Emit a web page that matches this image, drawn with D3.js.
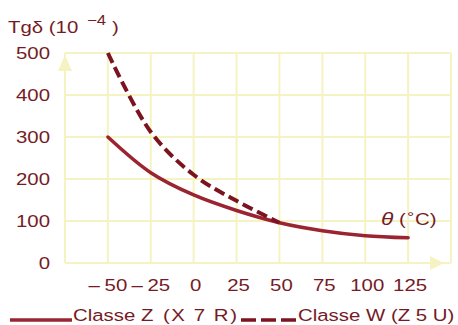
<!DOCTYPE html>
<html>
<head>
<meta charset="utf-8">
<script src="https://cdn.jsdelivr.net/npm/d3@7"></script>
<style>
  body { margin: 0; background: #fff; }
  text { font-family: "Liberation Sans", Arial, sans-serif; fill: #751b25; }
</style>
</head>
<body>
<div id="chart"></div>
<script>
(function () {

	// data
	var temps = [-50, -25, 0, 25, 50, 75, 100, 125];
	var classeZ = [300, 215, 162, 125, 96, 77, 65, 60];
	var tempsW = [-50, -25, 0, 25, 50];
	var classeW = [500, 312, 210, 148, 96];
	var xTicks = [-50, -25, 0, 25, 50, 75, 100, 125];
	var yTicks = [0, 100, 200, 300, 400, 500];

	var width = 458, height = 325;
	var gridColor = "#f6f3c2";
	var red = "#9a2430", darkRed = "#7c1420";
	var stretch = 1.2;

	var svg = d3.select("#chart")
		.append("svg")
		.attr("width", width)
		.attr("height", height);

	var x = d3.scaleLinear().domain([-75, 150]).range([65, 451]);
	var y = d3.scaleLinear().domain([0, 500]).range([263, 53]);

	// text is a bit wide in the original, so stretch it horizontally
	function label(px, py, txt, anchor, size) {
		return svg.append("text")
			.attr("transform", "translate(" + px + "," + py + ") scale(" + stretch + ",1)")
			.attr("text-anchor", anchor || "start")
			.attr("font-size", size || 17)
			.text(txt);
	}

	// grid
	var grid = svg.append("g");
	grid.selectAll(".vline")
		.data(d3.range(-75, 151, 25))
		.enter().append("line")
		.attr("x1", function(d){ return x(d) })
		.attr("x2", function(d){ return x(d) })
		.attr("y1", y(0))
		.attr("y2", y(500))
		.attr("stroke", gridColor)
		.attr("stroke-width", 2);

	grid.selectAll(".hline")
		.data(yTicks)
		.enter().append("line")
		.attr("x1", x(-75))
		.attr("x2", x(150))
		.attr("y1", function(d){ return y(d) })
		.attr("y2", function(d){ return y(d) })
		.attr("stroke", gridColor)
		.attr("stroke-width", 2);

	// axis arrows
	var ax = x(-75), ay = y(0);
	grid.append("path")
		.attr("d", "M" + ax + "," + (y(500) + 2) + "L" + (ax - 7) + "," + (y(500) + 18) + "L" + (ax + 7) + "," + (y(500) + 18) + "Z")
		.attr("fill", gridColor);
	grid.append("path")
		.attr("d", "M" + (x(150) - 7) + "," + ay + "L" + (x(150) - 21) + "," + (ay - 7) + "L" + (x(150) - 21) + "," + (ay + 7) + "Z")
		.attr("fill", gridColor);

	// curves
	var lineZ = d3.line()
		.x(function(d, i){ return x(temps[i]) })
		.y(function(d){ return y(d) })
		.curve(d3.curveCatmullRom.alpha(0.5));

	var lineW = d3.line()
		.x(function(d, i){ return x(tempsW[i]) })
		.y(function(d){ return y(d) })
		.curve(d3.curveCatmullRom.alpha(0.5));

	svg.append("path")
		.attr("d", lineZ(classeZ))
		.attr("fill", "none")
		.attr("stroke", red)
		.attr("stroke-width", 3.5)
		.attr("stroke-linecap", "round");

	svg.append("path")
		.attr("d", lineW(classeW))
		.attr("fill", "none")
		.attr("stroke", darkRed)
		.attr("stroke-width", 4)
		.attr("stroke-dasharray", "11,5");

	// y tick labels
	yTicks.forEach(function(v){
		label(50, y(v) + 6, String(v), "end", 17);
	});

	// x tick labels, minus sign drawn apart as in the original
	xTicks.forEach(function(v){
		if (v < 0) {
			var cx = x(v) + 8;
			label(cx, 291, String(-v), "middle", 17);
			label(cx - 16, 291, "\u2013", "end", 17);
		} else {
			label(x(v) + 2, 291, String(v), "middle", 17);
		}
	});

	// axis titles
	label(8, 33, "Tg\u03b4 (10", "start", 17);
	label(87, 25, "\u22124", "start", 14);
	label(112, 33, ")", "start", 17);

	label(381, 225, "\u03b8", "start", 19).attr("font-style", "italic");
	label(399, 225, "(", "start", 17);
	label(407, 222, "\u00b0", "start", 15);
	label(415, 225, "C)", "start", 17);

	// legend
	svg.append("line")
		.attr("x1", 10).attr("x2", 72)
		.attr("y1", 320).attr("y2", 320)
		.attr("stroke", red)
		.attr("stroke-width", 3.5);
	label(73, 321, "Classe Z", "start", 17);
	label(163, 321, "(X 7 R)", "start", 17).attr("letter-spacing", 1.3);

	svg.append("line")
		.attr("x1", 241).attr("x2", 297)
		.attr("y1", 320).attr("y2", 320)
		.attr("stroke", darkRed)
		.attr("stroke-width", 3.5)
		.attr("stroke-dasharray", "15,5");
	label(298, 321, "Classe W (Z 5 U)", "start", 17);

})();
</script>
</body>
</html>
